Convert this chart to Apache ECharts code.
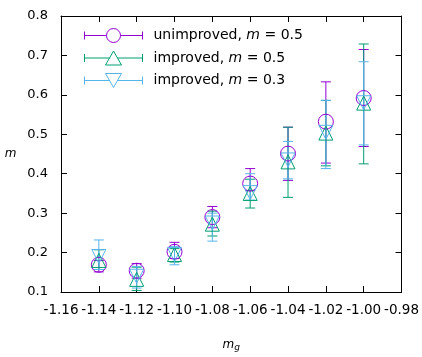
<!DOCTYPE html>
<html>
<head>
<meta charset="utf-8">
<script src="https://cdn.jsdelivr.net/npm/echarts@6/dist/echarts.min.js"></script>
<style>
html,body{margin:0;padding:0;background:#fff;}
#chart{width:422px;height:357px;}
</style>
</head>
<body>
<div id="chart"></div>
<script>
// ---- data ----
var xValues = [-1.14, -1.12, -1.10, -1.08, -1.06, -1.04, -1.02, -1.00];

var unimpName = 'unimproved, m = 0.5';
var unimpVal  = [0.169, 0.154, 0.202, 0.290, 0.375, 0.451, 0.532, 0.592];
var unimpLow  = [0.151, 0.135, 0.185, 0.263, 0.357, 0.383, 0.427, 0.469];
var unimpHigh = [0.180, 0.172, 0.226, 0.317, 0.413, 0.518, 0.633, 0.715];

var imp5Name = 'improved, m = 0.5';
var imp5Val  = [0.180, 0.132, 0.195, 0.272, 0.350, 0.430, 0.503, 0.579];
var imp5Low  = [0.157, 0.104, 0.176, 0.242, 0.313, 0.340, 0.420, 0.425];
var imp5High = [0.207, 0.163, 0.210, 0.305, 0.386, 0.518, 0.586, 0.729];

var imp3Name = 'improved, m = 0.3';
var imp3Val  = [0.190, 0.140, 0.195, 0.275, 0.352, 0.435, 0.505, 0.580];
var imp3Low  = [0.157, 0.110, 0.169, 0.229, 0.333, 0.387, 0.413, 0.473];
var imp3High = [0.232, 0.165, 0.215, 0.300, 0.400, 0.482, 0.586, 0.684];

var xTickMin = -1.16, xTickMax = -0.98, xTickStep = 0.02;
var yTickMin = 0.1, yTickMax = 0.8, yTickStep = 0.1;

// ---- styles ----
var cPurple = '#9400d3', cGreen = '#009e73', cCyan = '#56b4e9';
var FONT = 'DejaVu Sans';

function pts(vals) { return xValues.map(function (x, i) { return [x, vals[i]]; }); }
function bars(lo, hi) { return xValues.map(function (x, i) { return [x, lo[i], hi[i]]; }); }

function errorSeries(lo, hi, color) {
  return {
    type: 'custom',
    xAxisIndex: 0, yAxisIndex: 0,
    data: bars(lo, hi),
    silent: true,
    renderItem: function (params, api) {
      var x = api.value(0);
      var pLo = api.coord([x, api.value(1)]);
      var pHi = api.coord([x, api.value(2)]);
      var hw = 5;
      var st = { stroke: color, lineWidth: 1 };
      return {
        type: 'group',
        children: [
          { type: 'line', shape: { x1: pLo[0], y1: pLo[1], x2: pHi[0], y2: pHi[1] }, style: st },
          { type: 'line', shape: { x1: pLo[0] - hw, y1: pLo[1], x2: pLo[0] + hw, y2: pLo[1] }, style: st },
          { type: 'line', shape: { x1: pHi[0] - hw, y1: pHi[1], x2: pHi[0] + hw, y2: pHi[1] }, style: st }
        ]
      };
    },
    z: 2
  };
}

function markSeries(name, vals, color, symbol, rotate, size) {
  return {
    name: name,
    type: 'scatter',
    xAxisIndex: 0, yAxisIndex: 0,
    data: pts(vals),
    symbol: symbol,
    symbolRotate: rotate,
    symbolSize: size,
    itemStyle: { color: 'rgba(0,0,0,0)', borderColor: color, borderWidth: 1, opacity: 1 },
    emphasis: { disabled: true },
    z: 3
  };
}

// legend icons: 58x14 box, caps + line + marker
var iconCircle = 'path://M0 3 L0 11 M0 7 L22 7 M36 7 L58 7 M58 3 L58 11 M36 7 A7 7 0 1 1 22 7 A7 7 0 1 1 36 7 Z';
var iconUp = 'path://M0 3 L0 11 M0 7 L25 7 M33 7 L58 7 M58 3 L58 11 M29 0 L37 14 L21 14 Z';
var iconDown = 'path://M0 3 L0 11 M0 7 L25 7 M33 7 L58 7 M58 3 L58 11 M21 0 L37 0 L29 14 Z';

function legendItem(name, icon, color) {
  return { name: name, icon: icon, itemStyle: { color: 'rgba(0,0,0,0)', borderColor: color, borderWidth: 1 } };
}

var axisLineStyle = { lineStyle: { color: '#000', width: 1 } };

var option = {
  backgroundColor: '#fff',
  animation: false,
  grid: { left: 61, right: 17, top: 16, bottom: 61, containLabel: false },
  legend: {
    orient: 'vertical',
    left: 84, top: 28,
    padding: 0,
    itemWidth: 58, itemHeight: 14,
    itemGap: 7.5,
    selectedMode: false,
    data: [
      legendItem(unimpName, iconCircle, cPurple),
      legendItem(imp5Name, iconUp, cGreen),
      legendItem(imp3Name, iconDown, cCyan)
    ],
    formatter: function (name) {
      var parts = name.split('m = ');
      return '{t|' + parts[0] + '}{i|m}{t| = ' + parts[1] + '}';
    },
    textStyle: {
      fontFamily: FONT, fontSize: 14, color: '#000', padding: [0, 0, 0, 6],
      rich: {
        t: { fontFamily: FONT, fontSize: 14, color: '#000' },
        i: { fontFamily: FONT, fontSize: 14, color: '#000', fontStyle: 'italic' }
      }
    }
  },
  xAxis: [{
    type: 'value', min: xTickMin, max: xTickMax, interval: xTickStep,
    position: 'bottom',
    name: '{i|m}{s|g}', nameLocation: 'middle', nameGap: 45,
    nameTextStyle: {
      rich: {
        i: { fontFamily: FONT, fontSize: 12, fontStyle: 'italic', color: '#000' },
        s: { fontFamily: FONT, fontSize: 9, fontStyle: 'italic', color: '#000', verticalAlign: 'bottom', padding: [6, 0, 0, 0] }
      }
    },
    axisLine: axisLineStyle,
    axisTick: { inside: true, length: 6, lineStyle: { color: '#000' } },
    axisLabel: {
      fontFamily: FONT, fontSize: 13.5, color: '#000', margin: 11,
      formatter: function (v) { return v.toFixed(2); }
    },
    splitLine: { show: false }
  }, {
    type: 'value', min: xTickMin, max: xTickMax, interval: xTickStep,
    position: 'top',
    axisLine: axisLineStyle,
    axisTick: { inside: true, length: 6, lineStyle: { color: '#000' } },
    axisLabel: { show: false },
    splitLine: { show: false }
  }],
  yAxis: [{
    type: 'value', min: yTickMin, max: yTickMax, interval: yTickStep,
    position: 'left',
    name: 'm', nameLocation: 'middle', nameGap: 44.5, nameRotate: 0,
    nameTextStyle: { fontFamily: FONT, fontSize: 12, fontStyle: 'italic', color: '#000', padding: [0, 0, 4, 0] },
    axisLine: axisLineStyle,
    axisTick: { inside: true, length: 6, lineStyle: { color: '#000' } },
    axisLabel: {
      fontFamily: FONT, fontSize: 13, color: '#000', margin: 13,
      formatter: function (v) { return v.toFixed(1); }
    },
    splitLine: { show: false }
  }, {
    type: 'value', min: yTickMin, max: yTickMax, interval: yTickStep,
    position: 'right',
    axisLine: axisLineStyle,
    axisTick: { inside: true, length: 6, lineStyle: { color: '#000' } },
    axisLabel: { show: false },
    splitLine: { show: false }
  }],
  series: [
    errorSeries(unimpLow, unimpHigh, cPurple),
    markSeries(unimpName, unimpVal, cPurple, 'circle', 0, 15),
    errorSeries(imp5Low, imp5High, cGreen),
    markSeries(imp5Name, imp5Val, cGreen, 'triangle', 0, 14),
    errorSeries(imp3Low, imp3High, cCyan),
    markSeries(imp3Name, imp3Val, cCyan, 'triangle', 180, 14)
  ]
};

var chart = echarts.init(document.getElementById('chart'), null, { renderer: 'canvas' });
chart.setOption(option);
</script>
</body>
</html>
